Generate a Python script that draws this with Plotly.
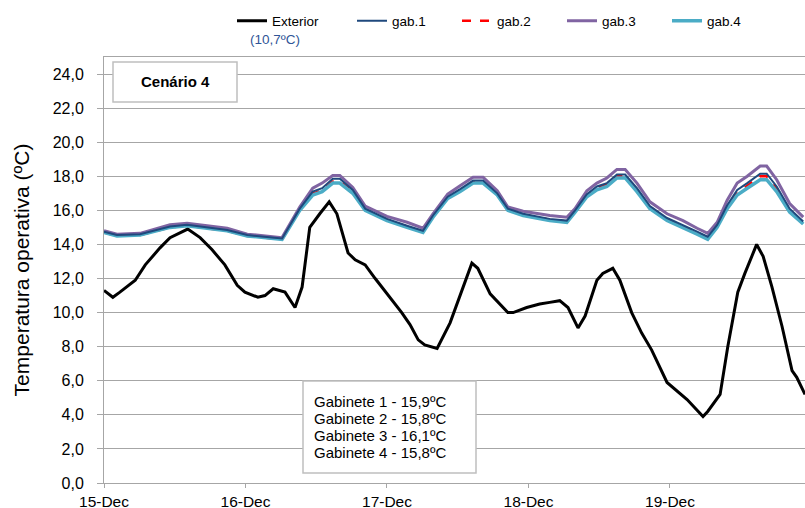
import pandas as pd
import plotly.graph_objects as go

start = pd.Timestamp("2013-12-15 00:00")

# Exterior temperature (hours after 15-Dec 00:00, value ºC)
ext_hours = [0, 1.5, 2.7, 5.3, 7, 9.5, 11.2, 14.2, 16.3, 18.3, 20.5, 22.6, 23.9,
             26.1, 27.3, 28.7, 30.7, 32.4, 33.6, 34.9, 36.6, 38.2, 39.5, 41.4, 42.6,
             44.3, 46.0, 48.5, 50.5, 51.9, 53.3, 54.4, 56.5, 58.7, 62.4, 63.4, 65.5,
             68.5, 69.4, 71.7, 73.9, 75.6, 77.3, 78.7, 80.4, 81.6, 83.6, 84.6, 86.3,
             87.5, 89.5, 91.2, 92.9, 95.5, 98.9, 101.6, 102.4, 104.5, 105.8, 107.5,
             108.7, 110.7, 111.8, 113.3, 115.0, 116.7, 117.5, 118.9]
ext_temp = [11.3, 10.9, 11.2, 11.9, 12.8, 13.8, 14.4, 14.9, 14.4, 13.7, 12.8, 11.6, 11.2,
            10.9, 11.0, 11.4, 11.2, 10.3, 11.5, 15.0, 15.8, 16.5, 15.8, 13.5, 13.1,
            12.8, 12.0, 10.9, 10.0, 9.3, 8.4, 8.1, 7.9, 9.4, 12.9, 12.6, 11.1,
            10.0, 10.0, 10.3, 10.5, 10.6, 10.7, 10.3, 9.1, 9.8, 11.9, 12.3, 12.6,
            11.9, 10.0, 8.8, 7.8, 5.9, 4.9, 3.9, 4.2, 5.2, 8.0, 11.2,
            12.3, 14.0, 13.3, 11.5, 9.2, 6.6, 6.2, 5.2]

# Office rooms (gabinetes)
in_hours = [0, 2.2, 6.1, 11.2, 14.1, 16.3, 20.9, 24.3, 27.6, 30.2, 33.2, 35.4, 37.0,
            38.8, 40.0, 42.2, 44.3, 48.0, 51.4, 54.1, 55.8, 58.3, 60.4, 62.6, 64.3,
            66.7, 68.5, 71.1, 75.6, 78.5, 79.9, 81.9, 83.6, 85.3, 87.0, 88.4, 90.4,
            92.6, 95.5, 98.2, 100.6, 102.4, 104.0, 105.7, 107.4, 109.1, 111.3, 112.4,
            114.1, 116.3, 118.6]
gab4 = [14.7, 14.5, 14.55, 15.0, 15.1, 15.0, 14.8, 14.5, 14.4, 14.3, 16.0, 16.9, 17.1,
        17.6, 17.6, 17.0, 16.0, 15.4, 15.0, 14.7, 15.6, 16.7, 17.1, 17.6, 17.6,
        16.9, 16.0, 15.7, 15.4, 15.3, 15.9, 16.8, 17.2, 17.4, 17.9, 17.9, 17.1,
        16.1, 15.4, 15.0, 14.6, 14.3, 15.0, 16.1, 16.9, 17.3, 17.8, 17.8,
        17.1, 15.9, 15.2]
gab1 = [14.75, 14.55, 14.6, 15.05, 15.15, 15.05, 14.85, 14.55, 14.45, 14.35, 16.1, 17.1, 17.3,
        17.85, 17.85, 17.2, 16.1, 15.5, 15.1, 14.8, 15.7, 16.8, 17.25, 17.75, 17.75,
        17.0, 16.1, 15.8, 15.5, 15.4, 16.0, 16.95, 17.4, 17.6, 18.1, 18.1, 17.3,
        16.25, 15.55, 15.15, 14.75, 14.45, 15.15, 16.3, 17.2, 17.6, 18.15, 18.15,
        17.4, 16.1, 15.35]
gab2 = [14.7, 14.5, 14.55, 15.0, 15.1, 15.0, 14.8, 14.5, 14.4, 14.3, 16.05, 17.0, 17.15,
        17.7, 17.7, 17.1, 16.05, 15.45, 15.05, 14.75, 15.65, 16.75, 17.15, 17.65, 17.65,
        16.95, 16.05, 15.75, 15.45, 15.35, 15.95, 16.85, 17.3, 17.5, 18.0, 18.0, 17.2,
        16.2, 15.5, 15.1, 14.7, 14.4, 15.1, 16.2, 17.0, 17.45, 18.0, 18.0,
        17.25, 16.0, 15.3]
gab3 = [14.8, 14.6, 14.65, 15.15, 15.25, 15.15, 14.95, 14.6, 14.5, 14.4, 16.2, 17.3, 17.6,
        18.05, 18.05, 17.35, 16.25, 15.65, 15.3, 14.95, 15.8, 16.95, 17.45, 17.95, 17.95,
        17.15, 16.2, 15.95, 15.7, 15.6, 16.1, 17.15, 17.6, 17.9, 18.4, 18.4, 17.6,
        16.5, 15.8, 15.4, 14.95, 14.65, 15.3, 16.6, 17.6, 18.0, 18.6, 18.6,
        17.8, 16.4, 15.6]

y_ticks = [0, 2, 4, 6, 8, 10, 12, 14, 16, 18, 20, 22, 24]
room_notes = ["Gabinete 1 - 15,9ºC", "Gabinete 2 - 15,8ºC",
              "Gabinete 3 - 16,1ºC", "Gabinete 4 - 15,8ºC"]


def to_time(hours):
    return [start + pd.Timedelta(hours=h) for h in hours]


ext_x = to_time(ext_hours)
in_x = to_time(in_hours)

fig = go.Figure()
fig.add_trace(go.Scatter(x=ext_x, y=ext_temp, mode="lines", name="Exterior",
                         line=dict(color="#000000", width=3), legendrank=1,
                         legendwidth=75))
fig.add_trace(go.Scatter(x=in_x, y=gab2, mode="lines", name="gab.2",
                         line=dict(color="#FF0000", width=2.5, dash="dash"), legendrank=3))
fig.add_trace(go.Scatter(x=in_x, y=gab4, mode="lines", name="gab.4",
                         line=dict(color="#4BACC6", width=3.5), legendrank=5))
fig.add_trace(go.Scatter(x=in_x, y=gab3, mode="lines", name="gab.3",
                         line=dict(color="#8064A2", width=3), legendrank=4))
fig.add_trace(go.Scatter(x=in_x, y=gab1, mode="lines", name="gab.1",
                         line=dict(color="#1F497D", width=2), legendrank=2))

W, H = 805, 508
L, R, T, B = 104, 0, 57, 25
pw, ph = W - L - R, H - T - B


def px(x):
    return (x - L) / pw


def py(y):
    return (H - B - y) / ph


grid = "#A6A6A6"
font = "Liberation Sans, Arial, sans-serif"

annotations = [
    dict(text="<b>Cenário 4</b>", x=px(175), y=py(82), xref="paper", yref="paper",
         showarrow=False, font=dict(size=15, color="#000000", family=font),
         xanchor="center", yanchor="middle"),
    dict(text="(10,7ºC)", x=px(275), y=py(40), xref="paper", yref="paper",
         showarrow=False, font=dict(size=13.5, color="#2F5597", family=font),
         xanchor="center", yanchor="middle"),
]
for i, t in enumerate(room_notes):
    annotations.append(dict(text=t, x=px(312), y=py(401.7 + 16.9 * i), xref="paper",
                            yref="paper", showarrow=False, xanchor="left",
                            yanchor="middle",
                            font=dict(size=15, color="#000000", family=font)))

shapes = [
    dict(type="rect", xref="paper", yref="paper", x0=px(113), x1=px(237),
         y0=py(102), y1=py(62), line=dict(color="#BFBFBF", width=1.5),
         fillcolor="#FFFFFF", layer="above"),
    dict(type="rect", xref="paper", yref="paper", x0=px(303), x1=px(476),
         y0=py(473), y1=py(381), line=dict(color="#BFBFBF", width=1.5),
         fillcolor="#FFFFFF", layer="above"),
]

fig.update_layout(
    width=W, height=H,
    margin=dict(l=L, r=R, t=T, b=B, autoexpand=False),
    paper_bgcolor="#FFFFFF", plot_bgcolor="#FFFFFF",
    separators=",.",
    font=dict(family=font, color="#000000"),
    showlegend=True,
    legend=dict(orientation="h", xref="container", yref="container",
                x=232 / W, xanchor="left", y=1 - 21 / H, yanchor="middle",
                entrywidth=60, entrywidthmode="pixels", itemwidth=30,
                font=dict(size=13.5, color="#000000", family=font),
                bgcolor="rgba(0,0,0,0)", borderwidth=0),
    annotations=annotations,
    shapes=shapes,
)

fig.update_xaxes(
    type="date", automargin=False,
    range=[start, start + pd.Timedelta(hours=118.9)],
    tickformat="%d-%b", dtick=86400000, tick0=start,
    showgrid=False, showline=True, linecolor=grid, linewidth=1, mirror=True,
    ticks="outside", ticklen=4, tickcolor=grid,
    tickfont=dict(size=15.5, color="#000000", family=font),
    zeroline=False,
)
fig.update_yaxes(
    automargin=False,
    range=[0, 25], tickvals=y_ticks, tickformat=".1f",
    showgrid=True, gridcolor=grid, gridwidth=1,
    showline=True, linecolor=grid, linewidth=1,
    ticks="outside", ticklen=6, tickcolor=grid,
    ticklabelstandoff=10,
    tickfont=dict(size=16, color="#000000", family=font),
    title=dict(text="Temperatura operativa (ºC)", standoff=17,
               font=dict(size=21, color="#000000", family=font)),
    zeroline=False,
)

fig.write_html("out.html",
               config={"displayModeBar": False},
               post_script="document.body.style.margin='0';document.body.style.padding='0';")
